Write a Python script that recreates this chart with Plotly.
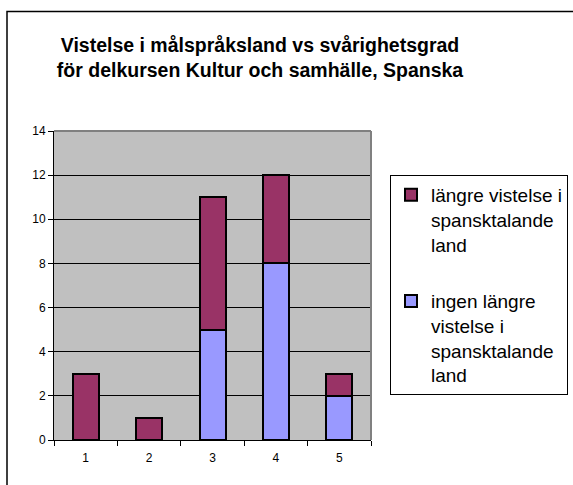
import plotly.graph_objects as go

categories = ["1", "2", "3", "4", "5"]
ingen_langre = [0, 0, 5, 8, 2]
langre_vistelse = [3, 1, 6, 4, 1]
y_ticks = [0, 2, 4, 6, 8, 10, 12, 14]

name_ingen = "ingen längre<br>vistelse i<br>spansktalande<br>land"
name_langre = "längre vistelse i<br>spansktalande<br>land"
title_text = "<b>Vistelse i målspråksland vs svårighetsgrad<br>för delkursen Kultur och samhälle, Spanska</b>"

FONT = "Arial, Liberation Sans, sans-serif"

W, H = 573, 485
L, R, T, B = 54, 371, 131, 440  # plot area in pixels
pw, ph = R - L, B - T

fig = go.Figure()
fig.add_trace(go.Bar(
    x=categories, y=ingen_langre, name=name_ingen, legendgroup="b", legendrank=2,
    marker=dict(color="#9999FF", line=dict(color="black", width=2)),
    width=0.41,
))
fig.add_trace(go.Bar(
    x=categories, y=langre_vistelse, name=name_langre, legendgroup="a", legendrank=1,
    marker=dict(color="#993366", line=dict(color="black", width=2)),
    width=0.41,
))

fig.update_layout(
    width=W, height=H,
    barmode="stack",
    paper_bgcolor="white",
    plot_bgcolor="#C0C0C0",
    margin=dict(l=L, r=W - R, t=T, b=H - B, autoexpand=False),
    font=dict(family=FONT, color="black"),
    title=dict(text=title_text, x=260 / W, xanchor="center", xref="container",
               y=1 - 52 / H, yanchor="top", yref="container",
               font=dict(size=19.5, family=FONT, color="black")),
    legend=dict(
        x=390 / W, xanchor="left", xref="container",
        y=1 - 175 / H, yanchor="top", yref="container",
        bordercolor="black", borderwidth=1, bgcolor="white",
        font=dict(size=19, family=FONT, color="black"),
        traceorder="grouped", tracegroupgap=29, valign="top",
    ),
    xaxis=dict(
        showline=True, linecolor="black", linewidth=1,
        ticks="outside", tickson="boundaries", ticklen=5, tickcolor="black",
        ticklabelstandoff=7,
        tickfont=dict(size=12, family=FONT), showgrid=False,
    ),
    yaxis=dict(
        range=[0, 14], tickvals=y_ticks, showline=True, linecolor="black", linewidth=1,
        ticks="outside", ticklen=5, tickcolor="black",
        tickfont=dict(size=12, family=FONT),
        showgrid=True, gridcolor="black", gridwidth=1, zeroline=False,
    ),
    shapes=[
        dict(type="line", xref="paper", yref="paper", x0=0, x1=1, y0=1, y1=1,
             line=dict(color="#808080", width=2)),
        dict(type="line", xref="paper", yref="paper", x0=1, x1=1, y0=0, y1=1,
             line=dict(color="#808080", width=2)),
        dict(type="rect", xref="paper", yref="paper",
             x0=(7 - L) / pw, x1=(W + 20 - L) / pw,
             y0=(B - H - 20) / ph, y1=(B - 11.5) / ph,
             line=dict(color="black", width=1.5), fillcolor="rgba(0,0,0,0)",
             layer="above"),
    ],
)

fig.write_html("out.html", config={"displayModeBar": False},
               post_script="document.body.style.margin='0';")
